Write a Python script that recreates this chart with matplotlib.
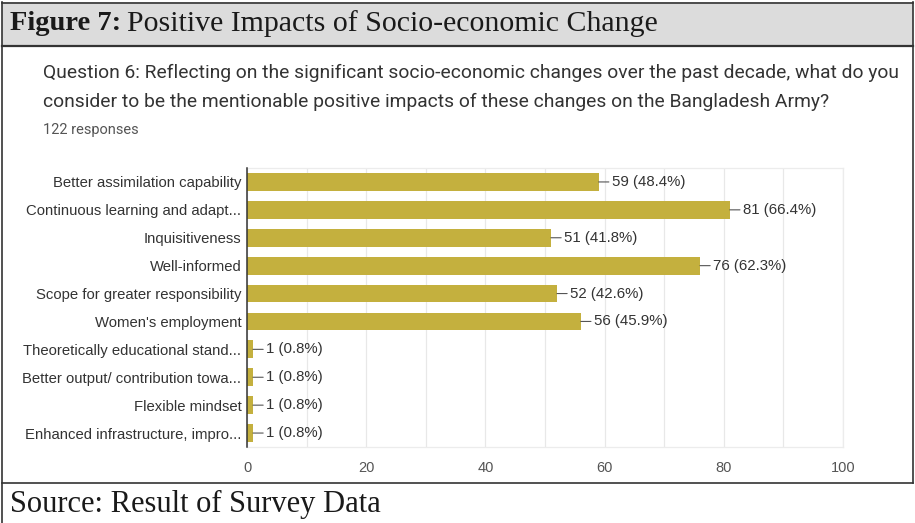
import matplotlib
matplotlib.use("Agg")
import matplotlib.pyplot as plt
from matplotlib.patches import Rectangle
from matplotlib.lines import Line2D

# Survey responses (n = 122)
categories = [
    "Better assimilation capability",
    "Continuous learning and adapt...",
    "Inquisitiveness",
    "Well-informed",
    "Scope for greater responsibility",
    "Women's employment",
    "Theoretically educational stand...",
    "Better output/ contribution towa...",
    "Flexible mindset",
    "Enhanced infrastructure, impro...",
]
counts = [59, 81, 51, 76, 52, 56, 1, 1, 1, 1]
percents = [48.4, 66.4, 41.8, 62.3, 42.6, 45.9, 0.8, 0.8, 0.8, 0.8]
x_ticks = [0, 20, 40, 60, 80, 100]

W, H = 915, 523
fig = plt.figure(figsize=(W / 100, H / 100), dpi=100)
fig.patch.set_facecolor("white")


def fx(px):
    return px / W


def fy(py):
    return 1 - py / H


# Frame: grey title band, outer border and separators
fig.add_artist(Rectangle((fx(2), fy(46)), fx(911), 44 / H, transform=fig.transFigure,
                         facecolor="#dcdcdc", edgecolor="none", zorder=0))
border = dict(transform=fig.transFigure, color="#333333", zorder=5)
fig.add_artist(Line2D([fx(2), fx(913)], [fy(2.5), fy(2.5)], lw=1.2, **border))
fig.add_artist(Line2D([fx(2), fx(913)], [fy(46), fy(46)], lw=1.6, **border))
fig.add_artist(Line2D([fx(2), fx(913)], [fy(483), fy(483)], lw=1.2, **border))
fig.add_artist(Line2D([fx(2), fx(2)], [fy(2), fy(523)], lw=1.2, **border))
fig.add_artist(Line2D([fx(913), fx(913)], [fy(2), fy(483)], lw=1.2, **border))

serif = ["Liberation Serif", "DejaVu Serif"]
fig.text(fx(10), fy(24), "Figure 7:", fontsize=20.5, fontweight="bold",
         family=serif, color="#1a1a1a", va="center", ha="left")
fig.text(fx(127), fy(24), "Positive Impacts of Socio-economic Change", fontsize=21.5,
         family=serif, color="#1a1a1a", va="center", ha="left")
fig.text(fx(10), fy(504), "Source: Result of Survey Data", fontsize=22,
         family=serif, color="#1a1a1a", va="center", ha="left")

sans = ["Roboto", "DejaVu Sans"]
fig.text(fx(43), fy(73), "Question 6: Reflecting on the significant socio-economic changes over the past decade, what do you",
         fontsize=13.9, family=sans, color="#333333", va="center", ha="left")
fig.text(fx(43), fy(102), "consider to be the mentionable positive impacts of these changes on the Bangladesh Army?",
         fontsize=13.9, family=sans, color="#333333", va="center", ha="left")
fig.text(fx(43), fy(130), "122 responses", fontsize=10.5, family=sans,
         color="#555555", va="center", ha="left")

# Bar chart
ax = fig.add_axes([fx(247), fy(447), fx(843 - 247), (447 - 168) / H])
arial = ["Liberation Sans", "DejaVu Sans"]
ypos = list(range(len(categories)))
ax.barh(ypos, counts, height=0.64, color="#c4b03e", zorder=3)
ax.set_xlim(0, 100)
ax.set_ylim(len(categories) - 0.5, -0.5)
ax.set_xticks(x_ticks)
ax.set_xticks(range(10, 100, 20), minor=True)
ax.set_xticklabels([str(t) for t in x_ticks], fontsize=10.5, color="#555555", family=arial)
ax.set_yticks(ypos)
ax.set_yticklabels(categories, fontsize=10.7, color="#333333", family=arial)
ax.tick_params(axis="both", which="both", length=0, pad=4)
ax.tick_params(axis="x", pad=10)
ax.grid(axis="x", which="both", color="#e8e8e8", lw=0.9, zorder=0)
for side in ("top", "right", "bottom"):
    ax.spines[side].set_color("#ececec")
    ax.spines[side].set_linewidth(0.9)
ax.spines["left"].set_color("#333333")
ax.spines["left"].set_linewidth(1.1)
ax.spines["left"].set_zorder(4)

for i, (c, p) in enumerate(zip(counts, percents)):
    ax.annotate(f"{c} ({p}%)", xy=(c, i), xytext=(13, 0), textcoords="offset pixels",
                va="center", ha="left", fontsize=10.8, color="#333333", family=arial,
                arrowprops=dict(arrowstyle="-", color="#555555", lw=0.8,
                                shrinkA=0, shrinkB=0))

fig.savefig("out.png", dpi=100, facecolor="white")
